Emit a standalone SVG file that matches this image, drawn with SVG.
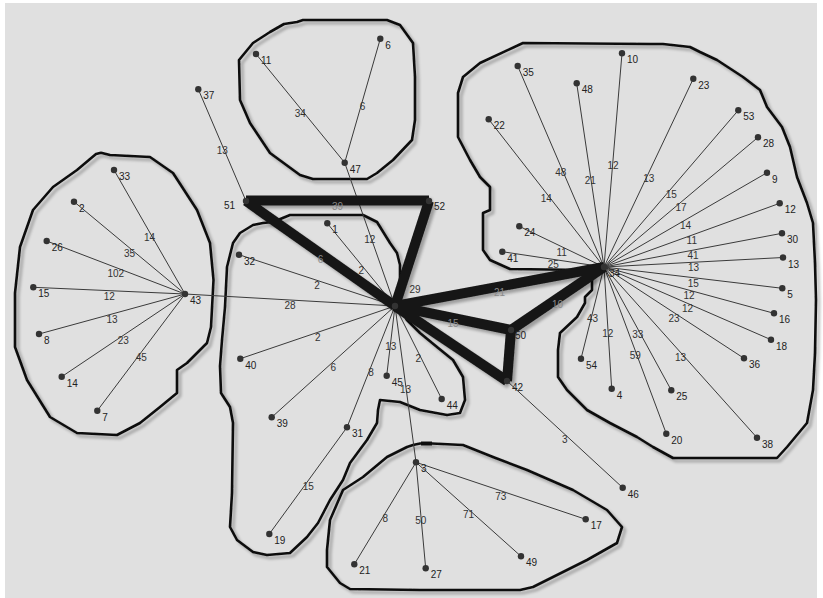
<svg xmlns="http://www.w3.org/2000/svg" width="823" height="598" viewBox="0 0 823 598">
<style>
.hull{fill:none;stroke:#111;stroke-width:2.6;stroke-linejoin:round;stroke-linecap:round}
.e{stroke:#3a3a3a;stroke-width:1}
.t{stroke:#151515;stroke-width:10;stroke-linecap:butt}
.d{fill:#333}
text{font-family:"Liberation Sans",Arial,sans-serif;font-size:10px;fill:#222}
.el{text-anchor:middle;fill:#333}
.hl{text-anchor:middle;fill:#8a8a8a}
</style>
<defs>
<filter id="sh" filterUnits="userSpaceOnUse" x="0" y="0" width="823" height="598">
<feGaussianBlur in="SourceAlpha" stdDeviation="1.8"/>
<feOffset dx="3" dy="3"/>
<feComponentTransfer><feFuncA type="linear" slope="0.3"/></feComponentTransfer>
<feMerge><feMergeNode/><feMergeNode in="SourceGraphic"/></feMerge>
</filter>
</defs>
<rect width="823" height="598" fill="#ffffff"/>
<rect x="5" y="3" width="812" height="595" fill="#e0e0e0"/>

<g id="hulls" filter="url(#sh)">
<path class="hull" d="M96,154 L101,152.7 L110,155 L150,157 L173,173 L197,210 L210,243 L213.5,280 L211,327 L207,343 L187,363 L177,370 L177,393 L160,407 L140,423 L117,435 L77,433 L50,417 L27,380 L15,347 L15,293 L20,247 L33,210 L53,187 L77,170 Z"/>
<path class="hull" d="M284,24 L297,22 L303,20 L387,20 L400,25 L413,43 L415,77 L415,120 L412,140 L393,160 L377,173 L367,179 L313,179 L300,175 L270,153 L250,123 L240,100 L239,60 L253,43 L270,32 Z"/>
<path class="hull" d="M253,225 L263,223 L273,222 L290,215 L363,215 L377,222 L390,243 L397,253 L400,265 L400,280 L397,303 L407,320 L420,333 L437,347 L453,360 L463,377 L465,400 L460,413 L447,415 L420,410 L400,402 L380,400 L378,410 L377,423 L367,440 L350,463 L343,480 L330,500 L318,523 L307,537 L290,553 L267,555 L253,552 L237,540 L230,527 L232,493 L233,423 L230,407 L221,393 L220,366 L222,340 L225,307 L227,267 L233,243 L240,233 Z"/>
<path class="hull" d="M413,445 L420,443.5 L432,443.5 L463,445 L493,457 L527,470 L573,490 L607,510 L622,527 L617,543 L587,560 L553,577 L533,587 L520,590 L420,590 L350,589 L340,583 L327,567 L327,550 L330,520 L343,490 L363,477 L387,457 L407,447 Z"/>
<line x1="421" y1="443.5" x2="432" y2="443.5" stroke="#111" stroke-width="4"/>
<path class="hull" d="M523,43 L650,44 L663,44 L690,47 L700,52 L717,60 L743,77 L760,90 L767,107 L782,127 L790,147 L797,177 L807,203 L813,223 L815,263 L816,300 L815,353 L813,390 L807,423 L787,447 L777,458 L673,458 L653,447 L637,437 L610,423 L587,410 L567,390 L558,377 L558,350 L560,333 L577,317 L585,303 L585,297 L592,290 L592,277 L587,270 L510,269 L490,260 L483,250 L483,213 L490,210 L490,187 L480,177 L470,160 L458,137 L458,93 L463,77 L480,63 Z"/>
</g>

<g id="connectors">
<g id="thin">
<line class="e" x1="185" y1="294" x2="114" y2="170"/>
<line class="e" x1="185" y1="294" x2="74" y2="201.7"/>
<line class="e" x1="185" y1="294" x2="46.7" y2="241"/>
<line class="e" x1="185" y1="294" x2="33.3" y2="287.3"/>
<line class="e" x1="185" y1="294" x2="39" y2="334"/>
<line class="e" x1="185" y1="294" x2="61.7" y2="376.7"/>
<line class="e" x1="185" y1="294" x2="97.3" y2="410.7"/>
<line class="e" x1="185" y1="294" x2="395" y2="306"/>
<line class="e" x1="395" y1="306" x2="327.3" y2="223.3"/>
<line class="e" x1="395" y1="306" x2="239" y2="254.7"/>
<line class="e" x1="395" y1="306" x2="240.3" y2="358.7"/>
<line class="e" x1="395" y1="306" x2="271.7" y2="417.3"/>
<line class="e" x1="395" y1="306" x2="347" y2="427.3"/>
<line class="e" x1="395" y1="306" x2="386.7" y2="375.7"/>
<line class="e" x1="395" y1="306" x2="416" y2="462.3"/>
<line class="e" x1="395" y1="306" x2="441.7" y2="399"/>
<line class="e" x1="395" y1="306" x2="344.7" y2="162.7"/>
<line class="e" x1="344.7" y1="162.7" x2="256" y2="54"/>
<line class="e" x1="344.7" y1="162.7" x2="380.3" y2="38.7"/>
<line class="e" x1="198.3" y1="89.3" x2="246" y2="201"/>
<line class="e" x1="347" y1="427.3" x2="269.3" y2="534"/>
<line class="e" x1="416" y1="462.3" x2="354.3" y2="564.3"/>
<line class="e" x1="416" y1="462.3" x2="425.7" y2="568.3"/>
<line class="e" x1="416" y1="462.3" x2="521" y2="556.3"/>
<line class="e" x1="416" y1="462.3" x2="585.7" y2="519.3"/>
<line class="e" x1="507" y1="381" x2="622.7" y2="487.7"/>
<line class="e" x1="604" y1="267" x2="517.7" y2="66"/>
<line class="e" x1="604" y1="267" x2="576.7" y2="83.3"/>
<line class="e" x1="604" y1="267" x2="622" y2="53.3"/>
<line class="e" x1="604" y1="267" x2="488.7" y2="119.3"/>
<line class="e" x1="604" y1="267" x2="519.3" y2="226.3"/>
<line class="e" x1="604" y1="267" x2="502.3" y2="251.7"/>
<line class="e" x1="604" y1="267" x2="693.3" y2="78.7"/>
<line class="e" x1="604" y1="267" x2="738.3" y2="110.3"/>
<line class="e" x1="604" y1="267" x2="758" y2="137.3"/>
<line class="e" x1="604" y1="267" x2="767" y2="172.7"/>
<line class="e" x1="604" y1="267" x2="779.7" y2="203.3"/>
<line class="e" x1="604" y1="267" x2="782" y2="233.3"/>
<line class="e" x1="604" y1="267" x2="783" y2="257.5"/>
<line class="e" x1="604" y1="267" x2="782.3" y2="288.3"/>
<line class="e" x1="604" y1="267" x2="774" y2="313.3"/>
<line class="e" x1="604" y1="267" x2="771" y2="339.7"/>
<line class="e" x1="604" y1="267" x2="744" y2="358.3"/>
<line class="e" x1="604" y1="267" x2="757" y2="437.7"/>
<line class="e" x1="604" y1="267" x2="671.3" y2="390.3"/>
<line class="e" x1="604" y1="267" x2="666.3" y2="433.7"/>
<line class="e" x1="604" y1="267" x2="611.7" y2="388.7"/>
<line class="e" x1="604" y1="267" x2="581" y2="358.7"/>
</g>
<g id="edge-labels">
<text class="el" x="149.5" y="241">14</text>
<text class="el" x="129.5" y="256.8">35</text>
<text class="el" x="115.8" y="276.5">102</text>
<text class="el" x="109.2" y="299.7">12</text>
<text class="el" x="112" y="323">13</text>
<text class="el" x="123.3" y="344.3">23</text>
<text class="el" x="141.2" y="361.3">45</text>
<text class="el" x="290" y="309">28</text>
<text class="el" x="361.2" y="273.7">2</text>
<text class="el" x="317" y="289.3">2</text>
<text class="el" x="317.7" y="341.3">2</text>
<text class="el" x="333.3" y="370.7">6</text>
<text class="el" x="371" y="375.7">8</text>
<text class="el" x="390.8" y="349.8">13</text>
<text class="el" x="405.5" y="393.2">13</text>
<text class="el" x="418.3" y="361.5">2</text>
<text class="el" x="369.8" y="243.3">12</text>
<text class="el" x="300.3" y="117.3">34</text>
<text class="el" x="362.5" y="109.7">6</text>
<text class="el" x="222.2" y="154.2">13</text>
<text class="el" x="308.2" y="489.7">15</text>
<text class="el" x="385.2" y="522.3">8</text>
<text class="el" x="420.8" y="524.3">50</text>
<text class="el" x="468.5" y="518.3">71</text>
<text class="el" x="500.8" y="499.8">73</text>
<text class="el" x="564.8" y="443.3">3</text>
<text class="el" x="560.8" y="175.5">48</text>
<text class="el" x="590.3" y="184.2">21</text>
<text class="el" x="613" y="169.2">12</text>
<text class="el" x="546.3" y="202.2">14</text>
<text class="el" x="561.7" y="255.7">11</text>
<text class="el" x="553.2" y="268.3">25</text>
<text class="el" x="648.7" y="181.8">13</text>
<text class="el" x="671.2" y="197.7">15</text>
<text class="el" x="681" y="211.2">17</text>
<text class="el" x="685.5" y="228.8">14</text>
<text class="el" x="691.8" y="244.2">11</text>
<text class="el" x="693" y="259.2">41</text>
<text class="el" x="693.5" y="271.3">13</text>
<text class="el" x="693.2" y="286.7">15</text>
<text class="el" x="689" y="299.2">12</text>
<text class="el" x="687.5" y="312.3">12</text>
<text class="el" x="674" y="321.7">23</text>
<text class="el" x="680.5" y="361.3">13</text>
<text class="el" x="637.7" y="337.7">33</text>
<text class="el" x="635.2" y="359.3">59</text>
<text class="el" x="607.8" y="336.8">12</text>
<text class="el" x="592.5" y="321.8">43</text>
<text class="el" x="415" y="293">29</text>
</g>
<g id="thick" filter="url(#sh)">
<line class="t" x1="246" y1="200.5" x2="429" y2="200.5"/>
<line class="t" x1="246" y1="201" x2="395" y2="306"/>
<line class="t" x1="429" y1="201" x2="395" y2="306"/>
<line class="t" x1="395" y1="306" x2="604" y2="267"/>
<line class="t" x1="395" y1="306" x2="511" y2="330"/>
<line class="t" x1="511" y1="330" x2="604" y2="267"/>
<line class="t" x1="395" y1="306" x2="507" y2="381"/>
<line class="t" x1="507" y1="381" x2="511" y2="330"/>
</g>
<g id="thick-labels">
<text class="hl" x="337.5" y="210">39</text>
<text class="hl" x="320.5" y="262.5">6</text>
<text class="hl" x="499.5" y="295.5">21</text>
<text class="hl" x="453" y="327">15</text>
<text class="hl" x="557.5" y="307.5">10</text>
</g>
</g>

<g id="nodes">
<g id="n43"><circle class="d" cx="185" cy="294" r="3.2"/><text x="190" y="304">43</text></g>
<g id="n33"><circle class="d" cx="114" cy="170" r="3.2"/><text x="119" y="180">33</text></g>
<g id="n2"><circle class="d" cx="74" cy="201.7" r="3.2"/><text x="79" y="211.7">2</text></g>
<g id="n26"><circle class="d" cx="46.7" cy="241" r="3.2"/><text x="51.7" y="251">26</text></g>
<g id="n15"><circle class="d" cx="33.3" cy="287.3" r="3.2"/><text x="38.3" y="297.3">15</text></g>
<g id="n8"><circle class="d" cx="39" cy="334" r="3.2"/><text x="44" y="344">8</text></g>
<g id="n14"><circle class="d" cx="61.7" cy="376.7" r="3.2"/><text x="66.7" y="386.7">14</text></g>
<g id="n7"><circle class="d" cx="97.3" cy="410.7" r="3.2"/><text x="102.3" y="420.7">7</text></g>
<g id="nhub"><circle class="d" cx="395" cy="306" r="3.2"/></g>
<g id="n1"><circle class="d" cx="327.3" cy="223.3" r="3.2"/><text x="332.3" y="233.3">1</text></g>
<g id="n32"><circle class="d" cx="239" cy="254.7" r="3.2"/><text x="244" y="264.7">32</text></g>
<g id="n40"><circle class="d" cx="240.3" cy="358.7" r="3.2"/><text x="245.3" y="368.7">40</text></g>
<g id="n39"><circle class="d" cx="271.7" cy="417.3" r="3.2"/><text x="276.7" y="427.3">39</text></g>
<g id="n31"><circle class="d" cx="347" cy="427.3" r="3.2"/><text x="352" y="437.3">31</text></g>
<g id="n45"><circle class="d" cx="386.7" cy="375.7" r="3.2"/><text x="391.7" y="385.7">45</text></g>
<g id="n44"><circle class="d" cx="441.7" cy="399" r="3.2"/><text x="446.7" y="409">44</text></g>
<g id="n19"><circle class="d" cx="269.3" cy="534" r="3.2"/><text x="274.3" y="544">19</text></g>
<g id="n47"><circle class="d" cx="344.7" cy="162.7" r="3.2"/><text x="349.7" y="172.7">47</text></g>
<g id="n11"><circle class="d" cx="256" cy="54" r="3.2"/><text x="261" y="64">11</text></g>
<g id="n6"><circle class="d" cx="380.3" cy="38.7" r="3.2"/><text x="385.3" y="48.7">6</text></g>
<g id="n37"><circle class="d" cx="198.3" cy="89.3" r="3.2"/><text x="203.3" y="99.3">37</text></g>
<g id="n51"><circle class="d" cx="246" cy="201" r="3.2"/><text x="235" y="209" text-anchor="end">51</text></g>
<g id="n52"><circle class="d" cx="429" cy="201" r="3.2"/><text x="434" y="210">52</text></g>
<g id="n50"><circle class="d" cx="511" cy="330" r="3.2"/><text x="515" y="339">50</text></g>
<g id="n42"><circle class="d" cx="507" cy="381" r="3.2"/><text x="512" y="391">42</text></g>
<g id="n46"><circle class="d" cx="622.7" cy="487.7" r="3.2"/><text x="627.7" y="497.7">46</text></g>
<g id="n3"><circle class="d" cx="416" cy="462.3" r="3.2"/><text x="421" y="472.3">3</text></g>
<g id="n21"><circle class="d" cx="354.3" cy="564.3" r="3.2"/><text x="359.3" y="574.3">21</text></g>
<g id="n27"><circle class="d" cx="425.7" cy="568.3" r="3.2"/><text x="430.7" y="578.3">27</text></g>
<g id="n49"><circle class="d" cx="521" cy="556.3" r="3.2"/><text x="526" y="566.3">49</text></g>
<g id="n17"><circle class="d" cx="585.7" cy="519.3" r="3.2"/><text x="590.7" y="529.3">17</text></g>
<g id="n34"><circle class="d" cx="604" cy="267" r="3.2"/><text x="609" y="277">34</text></g>
<g id="n35"><circle class="d" cx="517.7" cy="66" r="3.2"/><text x="522.7" y="76">35</text></g>
<g id="n48"><circle class="d" cx="576.7" cy="83.3" r="3.2"/><text x="581.7" y="93.3">48</text></g>
<g id="n10"><circle class="d" cx="622" cy="53.3" r="3.2"/><text x="627" y="63.3">10</text></g>
<g id="n22"><circle class="d" cx="488.7" cy="119.3" r="3.2"/><text x="493.7" y="129.3">22</text></g>
<g id="n24"><circle class="d" cx="519.3" cy="226.3" r="3.2"/><text x="524.3" y="236.3">24</text></g>
<g id="n41"><circle class="d" cx="502.3" cy="251.7" r="3.2"/><text x="507.3" y="261.7">41</text></g>
<g id="n23"><circle class="d" cx="693.3" cy="78.7" r="3.2"/><text x="698.3" y="88.7">23</text></g>
<g id="n53"><circle class="d" cx="738.3" cy="110.3" r="3.2"/><text x="743.3" y="120.3">53</text></g>
<g id="n28"><circle class="d" cx="758" cy="137.3" r="3.2"/><text x="763" y="147.3">28</text></g>
<g id="n9"><circle class="d" cx="767" cy="172.7" r="3.2"/><text x="772" y="182.7">9</text></g>
<g id="n12"><circle class="d" cx="779.7" cy="203.3" r="3.2"/><text x="784.7" y="213.3">12</text></g>
<g id="n30"><circle class="d" cx="782" cy="233.3" r="3.2"/><text x="787" y="243.3">30</text></g>
<g id="n13"><circle class="d" cx="783" cy="257.5" r="3.2"/><text x="788" y="267.5">13</text></g>
<g id="n5"><circle class="d" cx="782.3" cy="288.3" r="3.2"/><text x="787.3" y="298.3">5</text></g>
<g id="n16"><circle class="d" cx="774" cy="313.3" r="3.2"/><text x="779" y="323.3">16</text></g>
<g id="n18"><circle class="d" cx="771" cy="339.7" r="3.2"/><text x="776" y="349.7">18</text></g>
<g id="n36"><circle class="d" cx="744" cy="358.3" r="3.2"/><text x="749" y="368.3">36</text></g>
<g id="n38"><circle class="d" cx="757" cy="437.7" r="3.2"/><text x="762" y="447.7">38</text></g>
<g id="n25"><circle class="d" cx="671.3" cy="390.3" r="3.2"/><text x="676.3" y="400.3">25</text></g>
<g id="n20"><circle class="d" cx="666.3" cy="433.7" r="3.2"/><text x="671.3" y="443.7">20</text></g>
<g id="n4"><circle class="d" cx="611.7" cy="388.7" r="3.2"/><text x="616.7" y="398.7">4</text></g>
<g id="n54"><circle class="d" cx="581" cy="358.7" r="3.2"/><text x="586" y="368.7">54</text></g>
</g>
</svg>
